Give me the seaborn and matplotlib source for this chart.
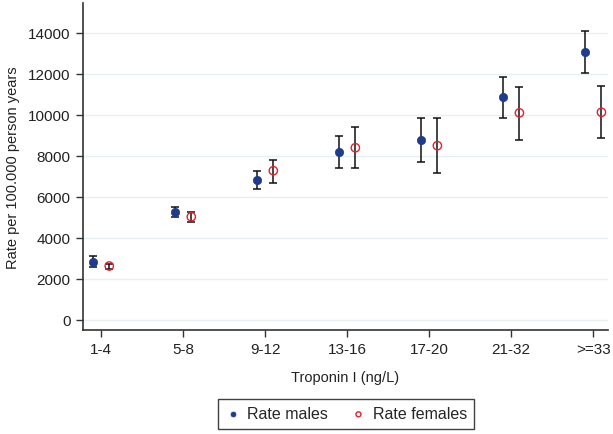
import numpy as np
import pandas as pd
import matplotlib
matplotlib.use("Agg")
import matplotlib.pyplot as plt
import seaborn as sns

categories = ["1-4", "5-8", "9-12", "13-16", "17-20", "21-32", ">=33"]
male_rate = [2830, 5250, 6850, 8200, 8800, 10860, 13070]
male_lo = [2590, 5000, 6400, 7400, 7690, 9850, 12030]
male_hi = [3120, 5500, 7250, 8990, 9870, 11830, 14080]
female_rate = [2630, 5030, 7280, 8400, 8500, 10100, 10130]
female_lo = [2490, 4800, 6700, 7400, 7170, 8800, 8860]
female_hi = [2730, 5250, 7800, 9415, 9840, 11370, 11430]
yticks = [0, 2000, 4000, 6000, 8000, 10000, 12000, 14000]

sns.set_theme(style="white")
plt.rcParams["font.family"] = ["Arial", "Liberation Sans", "DejaVu Sans"]

pos = np.arange(len(categories))
off = 0.1
df = pd.concat([
    pd.DataFrame({"x": pos - off, "rate": male_rate, "lo": male_lo, "hi": male_hi, "sex": "Rate males"}),
    pd.DataFrame({"x": pos + off, "rate": female_rate, "lo": female_lo, "hi": female_hi, "sex": "Rate females"}),
], ignore_index=True)

fig = plt.figure(figsize=(6.13, 4.35), dpi=100)
ax = fig.add_axes([83/613, 1 - 331/435, (608-83)/613, (331-4)/435])

for _, r in df.iterrows():
    ax.errorbar(r["x"], r["rate"], yerr=[[r["rate"] - r["lo"]], [r["hi"] - r["rate"]]],
                fmt="none", ecolor="#111111", elinewidth=1.1, capsize=3.2, capthick=1.1, zorder=2)

m = df[df.sex == "Rate males"]
f = df[df.sex == "Rate females"]
sns.scatterplot(data=m, x="x", y="rate", ax=ax, color="#1f3b8c", marker="o", s=36,
                edgecolor="#1f3b8c", linewidth=0.5, zorder=3, label="Rate males")
sns.scatterplot(data=f, x="x", y="rate", ax=ax, facecolor="none", edgecolor="#e3202a",
                marker="o", s=36, linewidth=1.0, zorder=3, label="Rate females")

ax.set_xlim(-0.22, 6.18)
ax.set_ylim(-490, 15460)
ax.set_xticks(pos)
ax.set_xticklabels(categories)
ax.set_yticks(yticks)
ax.set_yticklabels([str(v) for v in yticks])
ax.tick_params(axis="both", which="both", length=5, width=1, color="#333333",
               labelsize=11, labelcolor="#222222", direction="out", bottom=True, left=True, pad=4)
ax.grid(axis="y", color="#e6eff1", linewidth=1)
ax.set_axisbelow(True)
for s in ["top", "right"]:
    ax.spines[s].set_visible(False)
for s in ["left", "bottom"]:
    ax.spines[s].set_color("#333333")
    ax.spines[s].set_linewidth(1.2)
ax.set_xlabel("Troponin I (ng/L)", fontsize=10.5, color="#222222", labelpad=10)
ax.set_ylabel("Rate per 100.000 person years", fontsize=10.5, color="#222222", labelpad=6)

if ax.legend_:
    ax.legend_.remove()
h, l = ax.get_legend_handles_labels()
leg = fig.legend(h, l, loc="center", bbox_to_anchor=(346/613, 1 - 415/435), ncol=2,
                 frameon=True, fancybox=False, edgecolor="#111111", fontsize=11.5,
                 markerscale=0.6, handletextpad=0.4, columnspacing=1.4, borderpad=0.45,
                 handlelength=1.0)
leg.get_frame().set_linewidth(1.0)

fig.savefig("out.png", dpi=100)
